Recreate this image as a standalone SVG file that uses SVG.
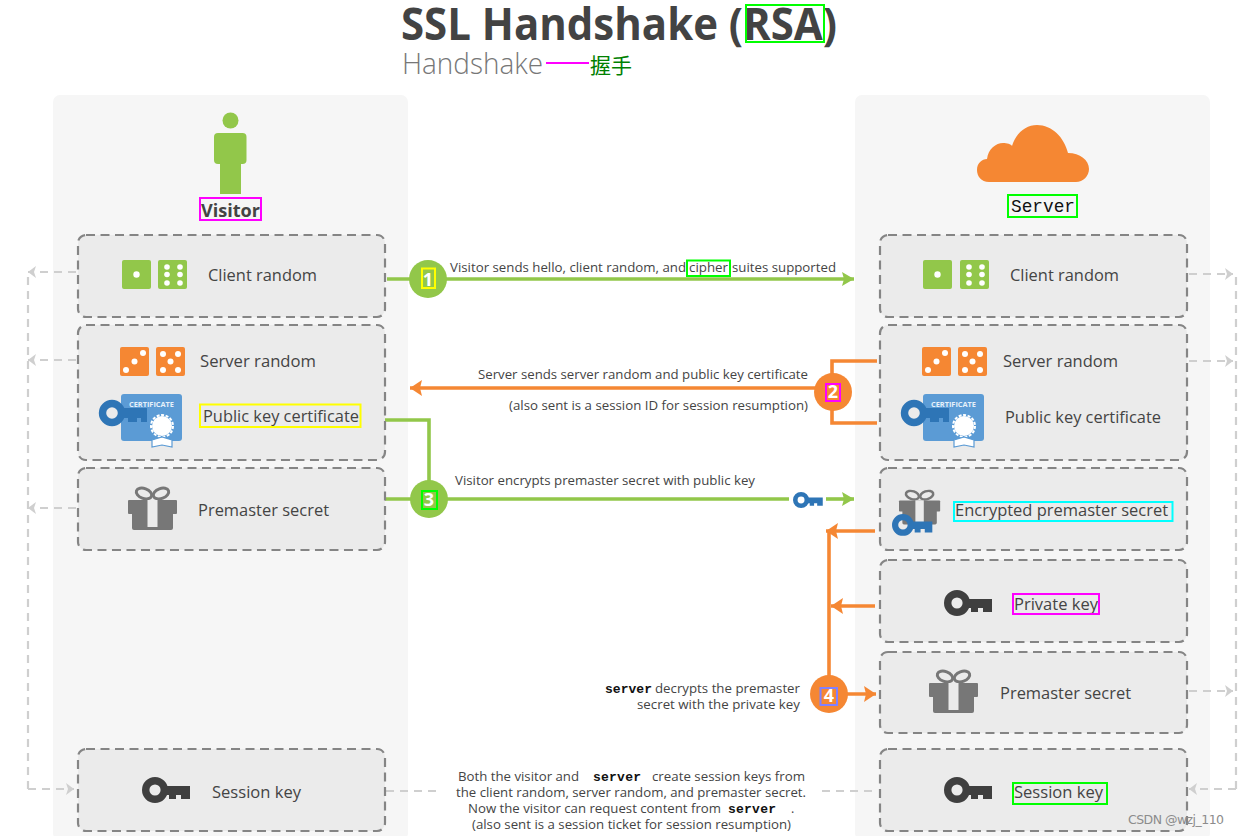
<svg xmlns="http://www.w3.org/2000/svg" width="1239" height="836" viewBox="0 0 1239 836">
<style>
text{font-family:"Open Sans","Noto Sans",sans-serif;fill:#444}
.lb{font-size:17px}
.cap{font-size:12.5px}
.mono{font-family:"Liberation Mono",monospace;font-weight:700;fill:#111;font-size:13px}
.num{font-size:18px;font-weight:700;fill:#fff;text-anchor:middle}
.panel{fill:#f6f6f6}
.box{fill:#ebebeb;stroke:#858585;stroke-width:2.2;stroke-dasharray:9 5.5}
.hl{fill:none;stroke-width:2}
.g{stroke:#92c74a;fill:none;stroke-width:3.6}
.o{stroke:#f58733;fill:none;stroke-width:3.6}
.d{stroke:#cfcfcf;fill:none;stroke-width:2.2;stroke-dasharray:8 6}
</style>
<defs>
<marker id="ag" markerUnits="userSpaceOnUse" markerWidth="13" markerHeight="14" refX="12" refY="7" orient="auto"><path d="M0 0L12 7L0 14L2 7Z" fill="#92c74a"/></marker>
<marker id="ao" markerUnits="userSpaceOnUse" markerWidth="13" markerHeight="16" refX="12" refY="8" orient="auto"><path d="M0 0L12 8L0 16L2 8Z" fill="#f58733"/></marker>
<marker id="ad" markerUnits="userSpaceOnUse" markerWidth="9" markerHeight="12" refX="8" refY="6" orient="auto"><path d="M0 0L8 6L0 12L2 6Z" fill="#cfcfcf"/></marker>
<g id="die-g"><rect width="29" height="29" rx="2" fill="#92c74a"/></g>
<g id="d1"><use href="#die-g"/><circle cx="14.500" cy="14.500" r="3.200" fill="#fff"/></g>
<g id="d6"><use href="#die-g"/><g fill="#fff"><circle cx="9" cy="7" r="2.800"/><circle cx="22" cy="7" r="2.800"/><circle cx="9" cy="14.500" r="2.800"/><circle cx="22" cy="14.500" r="2.800"/><circle cx="9" cy="23" r="2.800"/><circle cx="22" cy="23" r="2.800"/></g></g>
<g id="d3"><rect width="29" height="29" rx="2" fill="#f58733"/><g fill="#fff"><circle cx="6" cy="23" r="3"/><circle cx="14.500" cy="14.500" r="3"/><circle cx="23" cy="6" r="3"/></g></g>
<g id="d5"><rect width="29" height="29" rx="2" fill="#f58733"/><g fill="#fff"><circle cx="7" cy="7" r="3"/><circle cx="22" cy="7" r="3"/><circle cx="14.500" cy="14.500" r="3"/><circle cx="7" cy="23" r="3"/><circle cx="22" cy="23" r="3"/></g></g>
<g id="key"><circle cx="13" cy="13" r="9.300" fill="none" stroke="currentColor" stroke-width="7.400"/><path d="M21 9H48V22H39V18H34V22H27V18H21Z" fill="currentColor"/></g>
<g id="gift"><g fill="none" stroke="#777" stroke-width="3"><ellipse cx="16" cy="6.500" rx="8" ry="5" transform="rotate(20 16 6.500)"/><ellipse cx="33" cy="6.500" rx="8" ry="5" transform="rotate(-20 33 6.500)"/></g><rect y="13" width="49" height="14" rx="1" fill="#777"/><rect x="4" y="25" width="41" height="18" rx="2" fill="#777"/><rect x="19.500" y="13" width="10" height="27" fill="#ebebeb"/></g>
<g id="cert"><rect width="61" height="47" rx="3" fill="#5b9bd5"/><text x="8" y="13" font-size="7.500" font-weight="700" style="fill:#e6f0fa" textLength="45" lengthAdjust="spacingAndGlyphs">CERTIFICATE</text><circle cx="-9" cy="19" r="9.500" fill="none" stroke="#2e75b6" stroke-width="7.400"/><path d="M0 14H26V28H20V24H16V28H7V24H0Z" fill="#2e75b6"/><circle cx="41" cy="32" r="10" fill="#fff"/><circle cx="41" cy="32" r="11" fill="none" stroke="#fff" stroke-width="2" stroke-dasharray="3 1.600"/><path d="M31 46L41 43L51 46V53L41 51L31 53Z" fill="#fff" stroke="#5b9bd5" stroke-width="1.200"/></g>
</defs>

<g id="panels"><rect class="panel" x="53" y="95" width="355" height="745" rx="7"/><rect class="panel" x="855" y="95" width="355" height="745" rx="7"/></g>

<g id="title">
<text x="401" y="40" font-size="44" font-weight="700" textLength="436" lengthAdjust="spacingAndGlyphs" style="fill:#434343">SSL Handshake (RSA)</text>
<rect class="hl" x="746" y="5" width="78" height="37" stroke="#0f0"/>
<text x="402" y="74" font-size="30" font-weight="300" textLength="141" lengthAdjust="spacingAndGlyphs" style="fill:#777">Handshake</text>
<path d="M546 63H589" stroke="#f0f" stroke-width="2"/>
<text x="590" y="73" font-size="21" style="fill:#008000;font-family:'Noto Sans CJK SC',sans-serif">握手</text>
</g>

<g id="connectors">
<path class="d" d="M28 789V272"/>
<path class="d" d="M76 272H28" marker-end="url(#ad)"/>
<path class="d" d="M76 360H28" marker-end="url(#ad)"/>
<path class="d" d="M76 508H28" marker-end="url(#ad)"/>
<path class="d" d="M28 789H74" marker-end="url(#ad)"/>
<path class="d" d="M1236 789V274"/>
<path class="d" d="M1189 274H1233" marker-end="url(#ad)"/>
<path class="d" d="M1189 361H1233" marker-end="url(#ad)"/>
<path class="d" d="M1189 691H1233" marker-end="url(#ad)"/>
<path class="d" d="M1236 789H1189" marker-end="url(#ad)"/>
<path class="d" d="M386 791H440"/>
<path class="d" d="M822 791H875"/>
<path class="g" d="M387 279H854" marker-end="url(#ag)"/>
<path class="o" d="M833 388H410" marker-end="url(#ao)"/>
<path class="o" d="M877 361H832V423H877"/>
<path class="g" d="M385 420H429V499"/>
<path class="g" d="M383 499H789"/>
<path class="g" d="M826 499H854" marker-end="url(#ag)"/>
<path class="o" d="M829 680V531"/>
<path class="o" d="M875 531H826" marker-end="url(#ao)"/>
<path class="o" d="M875 606H831" marker-end="url(#ao)"/>
<path class="o" d="M829 694H876" marker-end="url(#ao)"/>
<use href="#key" transform="translate(793 492) scale(.62)" style="color:#2e75b6"/>
</g>

<g id="visitor">
<circle cx="230.500" cy="120.500" r="8" fill="#92c74a"/><rect x="214" y="133" width="32.500" height="31" rx="4" fill="#92c74a"/><rect x="220" y="160" width="21" height="34" fill="#92c74a"/>
<text x="201" y="217" font-size="18" font-weight="700" textLength="59" lengthAdjust="spacingAndGlyphs">Visitor</text>
<rect class="hl" x="200" y="198" width="61" height="22" stroke="#f0f"/>
</g>
<g id="server">
<path d="M989 182C981 182 977 176 977 170C977 163 982 159 987 159C988 149 996 143 1003 143C1007 143 1011 144 1012 146C1016 133 1026 125 1037 125C1052 125 1064 137 1068 153C1080 153 1089 160 1089 169C1089 176 1083 182 1076 182Z" fill="#f58733"/>
<text x="1011" y="212" style="font-family:'Liberation Mono',monospace;fill:#111" font-size="17.800" textLength="64">Server</text>
<rect class="hl" x="1008" y="195" width="69" height="22" stroke="#0f0"/>
</g>

<g id="v-client"><rect class="box" x="78" y="235" width="307" height="82" rx="8"/><use href="#d1" x="122" y="260"/><use href="#d6" x="158" y="260"/><text class="lb" x="208" y="281" textLength="109" lengthAdjust="spacingAndGlyphs">Client random</text></g>
<g id="v-server"><rect class="box" x="78" y="325" width="307" height="135" rx="8"/><use href="#d3" x="120" y="347"/><use href="#d5" x="156" y="347"/><text class="lb" x="200" y="367" textLength="116" lengthAdjust="spacingAndGlyphs">Server random</text><use href="#cert" x="121" y="394"/><text class="lb" x="203" y="422" textLength="156" lengthAdjust="spacingAndGlyphs">Public key certificate</text><rect class="hl" x="200" y="404.500" width="160.500" height="22.500" stroke="#ff0"/></g>
<g id="v-premaster"><rect class="box" x="78" y="468" width="307" height="82" rx="8"/><use href="#gift" x="128" y="487"/><text class="lb" x="198" y="516" textLength="131" lengthAdjust="spacingAndGlyphs">Premaster secret</text></g>
<g id="v-session"><rect class="box" x="78" y="749" width="307" height="82" rx="8"/><use href="#key" x="142" y="777" style="color:#3f3f3f"/><text class="lb" x="212" y="798" textLength="89" lengthAdjust="spacingAndGlyphs">Session key</text></g>

<g id="s-client"><rect class="box" x="880" y="235" width="307" height="82" rx="8"/><use href="#d1" x="923" y="260"/><use href="#d6" x="960" y="260"/><text class="lb" x="1010" y="281" textLength="109" lengthAdjust="spacingAndGlyphs">Client random</text></g>
<g id="s-server"><rect class="box" x="880" y="325" width="307" height="135" rx="8"/><use href="#d3" x="922" y="347"/><use href="#d5" x="958" y="347"/><text class="lb" x="1003" y="367" textLength="115" lengthAdjust="spacingAndGlyphs">Server random</text><use href="#cert" x="923" y="394"/><text class="lb" x="1005" y="423" textLength="156" lengthAdjust="spacingAndGlyphs">Public key certificate</text></g>
<g id="s-encrypted"><rect class="box" x="880" y="468" width="307" height="82" rx="8"/><use href="#gift" transform="translate(899 490) scale(.84 .8)"/><use href="#key" transform="translate(892 514) scale(.84)" style="color:#2e75b6"/><text class="lb" x="955" y="516" textLength="213" lengthAdjust="spacingAndGlyphs">Encrypted premaster secret</text><rect class="hl" x="954" y="502" width="218.500" height="19" stroke="#0ff"/></g>
<g id="s-private"><rect class="box" x="880" y="560" width="307" height="82" rx="8"/><use href="#key" x="944" y="590" style="color:#3f3f3f"/><text class="lb" x="1014" y="610" textLength="84" lengthAdjust="spacingAndGlyphs">Private key</text><rect class="hl" x="1013" y="594" width="86" height="20" stroke="#f0f"/></g>
<g id="s-premaster"><rect class="box" x="880" y="652" width="307" height="81" rx="8"/><use href="#gift" x="929" y="670"/><text class="lb" x="1000" y="699" textLength="131" lengthAdjust="spacingAndGlyphs">Premaster secret</text></g>
<g id="s-session"><rect class="box" x="880" y="749" width="307" height="82" rx="8"/><use href="#key" x="944" y="777" style="color:#3f3f3f"/><text class="lb" x="1014" y="798" textLength="89" lengthAdjust="spacingAndGlyphs">Session key</text><rect class="hl" x="1013" y="783" width="94" height="21" stroke="#0f0"/></g>

<g id="step1"><circle cx="428" cy="279" r="19" fill="#92c74a"/><text class="num" x="428" y="285.500">1</text><rect class="hl" x="422" y="268.500" width="13" height="19.500" stroke="#ff0"/></g>
<g id="step2"><circle cx="833" cy="392" r="19" fill="#f58733"/><text class="num" x="833" y="398">2</text><rect class="hl" x="826" y="384" width="14" height="17" stroke="#f0f"/></g>
<g id="step3"><circle cx="429" cy="499" r="19" fill="#92c74a"/><text class="num" x="429" y="506">3</text><rect class="hl" x="422" y="491" width="15" height="18" stroke="#0f0"/></g>
<g id="step4"><circle cx="829" cy="694" r="19" fill="#f58733"/><text class="num" x="829" y="702">4</text><rect class="hl" x="820.500" y="688" width="16.500" height="17" stroke="#8080ff"/></g>

<g id="captions">
<text class="cap" x="450" y="272" textLength="236" lengthAdjust="spacingAndGlyphs">Visitor sends hello, client random, and</text>
<text class="cap" x="689" y="272" textLength="39" lengthAdjust="spacingAndGlyphs">cipher</text>
<rect class="hl" x="687" y="260.500" width="43" height="15.500" stroke="#0f0"/>
<text class="cap" x="732" y="272" textLength="104" lengthAdjust="spacingAndGlyphs">suites supported</text>
<text class="cap" x="478" y="379" textLength="330" lengthAdjust="spacingAndGlyphs">Server sends server random and public key certificate</text>
<text class="cap" x="509" y="410" textLength="299" lengthAdjust="spacingAndGlyphs">(also sent is a session ID for session resumption)</text>
<text class="cap" x="455" y="485" textLength="300" lengthAdjust="spacingAndGlyphs">Visitor encrypts premaster secret with public key</text>
<text class="mono" x="605" y="693" textLength="47">server</text>
<text class="cap" x="655" y="693" textLength="145" lengthAdjust="spacingAndGlyphs">decrypts the premaster</text>
<text class="cap" x="637" y="709" textLength="163" lengthAdjust="spacingAndGlyphs">secret with the private key</text>
<text class="cap" x="458" y="781" textLength="121" lengthAdjust="spacingAndGlyphs">Both the visitor and</text>
<text class="mono" x="593" y="781" textLength="48">server</text>
<text class="cap" x="652" y="781" textLength="153" lengthAdjust="spacingAndGlyphs">create session keys from</text>
<text class="cap" x="456" y="797" textLength="350" lengthAdjust="spacingAndGlyphs">the client random, server random, and premaster secret.</text>
<text class="cap" x="468" y="813" textLength="253" lengthAdjust="spacingAndGlyphs">Now the visitor can request content from</text>
<text class="mono" x="728" y="813" textLength="48">server</text>
<text class="cap" x="791" y="813">.</text>
<text class="cap" x="472" y="829" textLength="319" lengthAdjust="spacingAndGlyphs">(also sent is a session ticket for session resumption)</text>
</g>
<text x="1128" y="824" font-size="12.500" textLength="96" style="fill:#8c8c8c;font-family:'DejaVu Sans',sans-serif">CSDN @wzj_110</text>
</svg>
